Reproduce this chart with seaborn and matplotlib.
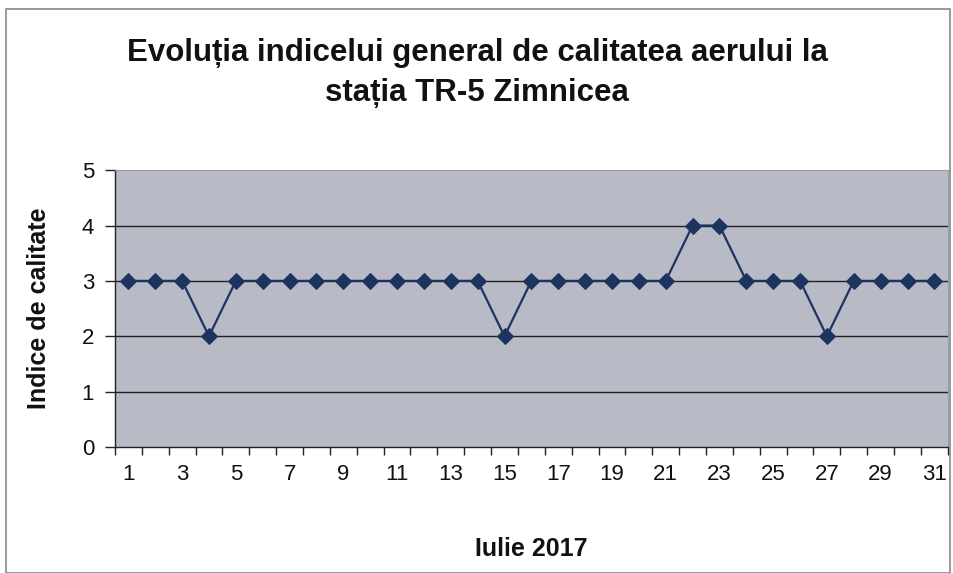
import pandas as pd
import matplotlib.pyplot as plt
import seaborn as sns
from matplotlib.patches import Rectangle

days = list(range(1, 32))
indice = [3, 3, 3, 2, 3, 3, 3, 3, 3, 3, 3, 3, 3, 3, 2, 3, 3, 3, 3, 3, 3, 4, 4, 3, 3, 3, 2, 3, 3, 3, 3]
xticks = list(range(1, 32, 2))
yticks = [0, 1, 2, 3, 4, 5]

df = pd.DataFrame({"zi": days, "indice": indice})

sns.set_style("white")
plt.rcParams["font.family"] = ["Liberation Sans", "DejaVu Sans"]
plt.rcParams["text.color"] = "#111111"
plt.rcParams["axes.labelcolor"] = "#111111"
plt.rcParams["xtick.color"] = "#111111"
plt.rcParams["ytick.color"] = "#111111"

fig = plt.figure(figsize=(9.54, 5.73), dpi=100)
ax = fig.add_axes([0.1205, 0.22, 0.873, 0.483])
ax.set_facecolor("#b8bac6")

# chart frame
fig.patches.append(Rectangle((0.006, 0.0), 0.99, 0.985, transform=fig.transFigure,
                             fill=False, edgecolor="#888888", linewidth=1.2))

for y in yticks[1:-1]:
    ax.axhline(y, color="#222222", linewidth=1.0, zorder=1)

sns.lineplot(data=df, x="zi", y="indice", ax=ax, color="#1d3461", linewidth=1.6,
             marker="D", markersize=8, markeredgecolor="#1d3461", zorder=3)

ax.set_xlim(0.5, 31.5)
ax.set_ylim(0, 5)
ax.set_xticks(xticks)
ax.set_xticks([d + 0.5 for d in range(0, 32)], minor=True)
ax.tick_params(axis="x", which="major", bottom=False, length=0, pad=12, labelsize=16)
ax.tick_params(axis="x", which="minor", bottom=True, length=6, width=1, color="#222222",
               direction="out")
ax.set_yticks(yticks)
ax.tick_params(axis="y", which="major", length=7, width=1, color="#222222", labelsize=16,
               left=True, pad=8)

for side in ["left", "bottom"]:
    ax.spines[side].set_color("#222222")
    ax.spines[side].set_linewidth(1.0)
for side in ["top", "right"]:
    ax.spines[side].set_color("#9a9aa8")
    ax.spines[side].set_linewidth(0.8)

ax.set_xlabel("Iulie 2017", fontsize=18, fontweight="bold", labelpad=38)
ax.set_ylabel("Indice de calitate", fontsize=18, fontweight="bold", labelpad=22)
fig.text(0.5, 0.873, "Evoluția indicelui general de calitatea aerului la\nstația TR-5 Zimnicea",
         ha="center", va="center", fontsize=22.5, fontweight="bold", linespacing=1.45)

fig.savefig("out.png", dpi=100, facecolor="white")
